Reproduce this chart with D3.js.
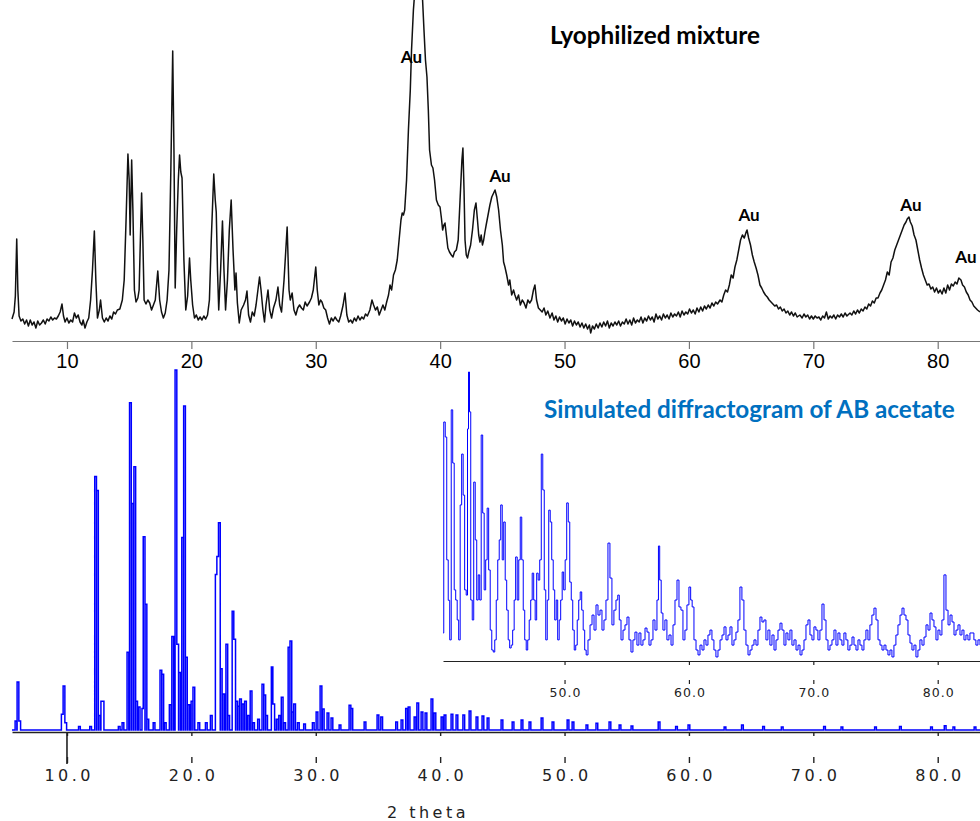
<!DOCTYPE html>
<html>
<head>
<meta charset="utf-8">
<script src="https://cdn.jsdelivr.net/npm/d3@7"></script>
<style>
  body { margin: 0; background: #fff; }
  svg { display: block; }
</style>
</head>
<body>
<div id="chart"></div>
<script>
// measured pattern of the lyophilized mixture: [2theta, counts]
const lyophilized = [
  [5.58, 11], [5.75, 18], [5.85, 34], [5.96, 91], [6.05, 40], [6.15, 14], [6.3, 9], [6.45, 11], [6.6, 6], [6.75, 10],
  [6.9, 4], [7.05, 10], [7.2, 5], [7.35, 8], [7.5, 2], [7.65, 9], [7.8, 5], [7.95, 7], [8.1, 10], [8.25, 6],
  [8.4, 11], [8.55, 9], [8.7, 13], [8.85, 10], [9.0, 12], [9.15, 11], [9.3, 14], [9.45, 18], [9.6, 26], [9.72, 14],
  [9.85, 8], [10.0, 12], [10.15, 7], [10.3, 10], [10.45, 8], [10.6, 17], [10.75, 12], [10.9, 15], [11.05, 8], [11.2, 5],
  [11.3, 10], [11.45, 2], [11.6, 8], [11.75, 12], [11.9, 30], [12.05, 60], [12.2, 99], [12.32, 50], [12.45, 12], [12.6, 20],
  [12.7, 30], [12.85, 12], [13.0, 8], [13.15, 12], [13.3, 9], [13.45, 14], [13.6, 11], [13.75, 18], [13.9, 16], [14.05, 20],
  [14.25, 21], [14.45, 30], [14.6, 50], [14.75, 110], [14.9, 176], [15.0, 150], [15.08, 95], [15.2, 170], [15.3, 120], [15.42, 40],
  [15.55, 28], [15.7, 32], [15.8, 40], [15.9, 90], [16.0, 137], [16.1, 90], [16.2, 30], [16.35, 26], [16.5, 30], [16.65, 27],
  [16.8, 20], [16.95, 25], [17.1, 30], [17.3, 59], [17.45, 30], [17.6, 18], [17.75, 12], [17.9, 17], [18.05, 30], [18.2, 60],
  [18.35, 160], [18.5, 279], [18.6, 180], [18.7, 42], [18.82, 100], [18.95, 150], [19.05, 175], [19.15, 158], [19.25, 152], [19.4, 70],
  [19.55, 20], [19.7, 34], [19.85, 72], [19.95, 50], [20.1, 25], [20.25, 12], [20.4, 15], [20.55, 10], [20.7, 13], [20.85, 10],
  [21.0, 14], [21.15, 11], [21.3, 15], [21.45, 30], [21.6, 90], [21.8, 156], [21.92, 130], [22.0, 118], [22.1, 60], [22.2, 20],
  [22.35, 60], [22.5, 109], [22.62, 60], [22.75, 20], [22.9, 50], [23.05, 100], [23.2, 130], [23.35, 80], [23.5, 40], [23.59, 57],
  [23.7, 27], [23.85, 7], [24.0, 20], [24.2, 25], [24.35, 30], [24.47, 39], [24.6, 15], [24.75, 8], [24.9, 18], [25.05, 14],
  [25.2, 25], [25.35, 40], [25.48, 53], [25.6, 40], [25.75, 20], [25.88, 8], [26.0, 25], [26.16, 40], [26.3, 20], [26.45, 12],
  [26.6, 22], [26.8, 30], [26.96, 43], [27.1, 25], [27.25, 18], [27.45, 50], [27.7, 103], [27.85, 40], [27.95, 30], [28.1, 37],
  [28.25, 20], [28.4, 15], [28.55, 22], [28.7, 25], [28.85, 22], [29.0, 20], [29.15, 28], [29.3, 24], [29.5, 28], [29.65, 32],
  [29.8, 40], [30.0, 63], [30.12, 40], [30.25, 25], [30.38, 30], [30.5, 28], [30.65, 22], [30.8, 20], [30.95, 12], [31.1, 6],
  [31.25, 12], [31.4, 9], [31.55, 13], [31.7, 10], [31.85, 8], [32.0, 14], [32.2, 25], [32.35, 37], [32.5, 15], [32.65, 8],
  [32.8, 10], [32.95, 7], [33.1, 12], [33.25, 9], [33.4, 14], [33.55, 10], [33.7, 13], [33.85, 11], [34.0, 16], [34.15, 14],
  [34.35, 20], [34.52, 30], [34.65, 25], [34.8, 20], [34.95, 23], [35.1, 15], [35.25, 20], [35.4, 25], [35.55, 20], [35.7, 28],
  [35.85, 35], [35.97, 45], [36.1, 40], [36.25, 55], [36.4, 60], [36.55, 70], [36.7, 90], [36.85, 110], [36.95, 117], [37.05, 115],
  [37.15, 120], [37.3, 150], [37.45, 200], [37.6, 240], [37.7, 280], [37.85, 320], [38.0, 345], [38.2, 365], [38.4, 362], [38.55, 340],
  [38.7, 300], [38.82, 270], [38.94, 253], [39.05, 220], [39.15, 180], [39.3, 165], [39.42, 162], [39.55, 150], [39.7, 130], [39.85, 125],
  [39.99, 123], [40.1, 112], [40.2, 100], [40.3, 105], [40.39, 107], [40.5, 95], [40.62, 82], [40.75, 78], [40.9, 75], [41.03, 73],
  [41.15, 78], [41.3, 80], [41.45, 90], [41.6, 130], [41.75, 170], [41.83, 182], [41.92, 140], [42.0, 90], [42.1, 75], [42.2, 72],
  [42.3, 78], [42.45, 85], [42.6, 100], [42.75, 120], [42.88, 127], [43.0, 110], [43.1, 95], [43.2, 88], [43.3, 95], [43.4, 85],
  [43.5, 90], [43.6, 98], [43.7, 105], [43.85, 115], [44.0, 125], [44.15, 133], [44.3, 137], [44.41, 140], [44.55, 133], [44.7, 120],
  [44.85, 100], [45.0, 85], [45.1, 68], [45.21, 63], [45.35, 55], [45.5, 45], [45.6, 50], [45.75, 35], [45.9, 40], [46.01, 35],
  [46.15, 30], [46.3, 35], [46.45, 25], [46.6, 30], [46.75, 27], [46.9, 22], [47.05, 30], [47.2, 27], [47.35, 30], [47.5, 40],
  [47.62, 45], [47.75, 30], [47.9, 22], [48.05, 20], [48.2, 18], [48.35, 22], [48.5, 15], [48.65, 19], [48.83, 12], [49.0, 17],
  [49.15, 10], [49.3, 14], [49.45, 8], [49.6, 13], [49.75, 9], [49.9, 12], [50.05, 6], [50.2, 11], [50.35, 7], [50.5, 10],
  [50.65, 4], [50.8, 9], [50.95, 5], [51.1, 8], [51.25, 3], [51.4, 7], [51.55, 2], [51.7, 6], [51.85, 1], [52.0, 5],
  [52.1, -3], [52.25, 4], [52.4, 1], [52.55, 6], [52.7, 2], [52.85, 7], [53.0, 3], [53.15, 8], [53.3, 4], [53.45, 9],
  [53.6, 2], [53.75, 7], [53.9, 4], [54.05, 8], [54.2, 5], [54.35, 9], [54.5, 4], [54.65, 8], [54.8, 6], [54.95, 11],
  [55.1, 6], [55.25, 10], [55.4, 5], [55.55, 12], [55.7, 7], [55.85, 10], [56.0, 8], [56.15, 13], [56.3, 7], [56.45, 12],
  [56.6, 9], [56.75, 14], [56.9, 10], [57.05, 13], [57.2, 8], [57.35, 16], [57.5, 11], [57.65, 14], [57.8, 10], [57.95, 16],
  [58.1, 12], [58.25, 15], [58.4, 11], [58.55, 17], [58.7, 13], [58.85, 16], [59.0, 14], [59.15, 18], [59.3, 13], [59.45, 19],
  [59.6, 15], [59.75, 18], [59.9, 16], [60.05, 21], [60.2, 17], [60.35, 20], [60.5, 16], [60.65, 22], [60.8, 18], [60.95, 23],
  [61.1, 19], [61.25, 24], [61.4, 21], [61.55, 25], [61.7, 22], [61.85, 27], [62.0, 24], [62.15, 28], [62.3, 26], [62.5, 30],
  [62.65, 28], [62.8, 35], [62.95, 40], [63.1, 38], [63.25, 45], [63.4, 55], [63.55, 52], [63.7, 63], [63.85, 70], [64.0, 80],
  [64.15, 90], [64.3, 95], [64.45, 92], [64.6, 98], [64.67, 100], [64.8, 92], [64.95, 85], [65.1, 75], [65.25, 68], [65.4, 62],
  [65.55, 55], [65.71, 45], [65.85, 42], [66.0, 38], [66.15, 35], [66.3, 33], [66.45, 30], [66.6, 28], [66.75, 26], [66.9, 24],
  [67.05, 25], [67.2, 21], [67.35, 23], [67.5, 19], [67.65, 21], [67.8, 17], [67.95, 19], [68.1, 15], [68.25, 18], [68.4, 14],
  [68.55, 17], [68.7, 13], [68.92, 15], [69.1, 12], [69.25, 16], [69.4, 13], [69.55, 15], [69.7, 11], [69.85, 14], [70.0, 11],
  [70.15, 14], [70.3, 12], [70.45, 13], [70.6, 10], [70.75, 14], [70.9, 12], [71.05, 18], [71.2, 11], [71.35, 14], [71.5, 12],
  [71.65, 15], [71.8, 11], [71.95, 15], [72.1, 13], [72.25, 16], [72.4, 13], [72.55, 17], [72.7, 14], [72.95, 17], [73.1, 15],
  [73.25, 19], [73.4, 16], [73.55, 20], [73.7, 17], [73.85, 21], [74.0, 19], [74.15, 23], [74.3, 21], [74.45, 26], [74.6, 24],
  [74.75, 29], [74.9, 27], [75.05, 32], [75.2, 32], [75.36, 37], [75.5, 40], [75.65, 45], [75.8, 50], [75.95, 58], [76.1, 55],
  [76.25, 68], [76.4, 72], [76.55, 80], [76.7, 85], [76.85, 90], [77.0, 95], [77.15, 100], [77.3, 105], [77.45, 108], [77.55, 111],
  [77.69, 113], [77.8, 108], [77.95, 104], [78.1, 95], [78.25, 90], [78.4, 80], [78.55, 70], [78.7, 62], [78.85, 55], [79.0, 50],
  [79.15, 45], [79.3, 46], [79.45, 41], [79.6, 43], [79.75, 38], [79.9, 42], [80.05, 37], [80.2, 40], [80.35, 36], [80.5, 42],
  [80.65, 37], [80.8, 45], [80.95, 40], [81.1, 46], [81.25, 44], [81.4, 48], [81.55, 46], [81.7, 52], [81.87, 50], [82.0, 45],
  [82.15, 43], [82.3, 38], [82.45, 35], [82.6, 30], [82.75, 28], [82.9, 24], [83.05, 22], [83.2, 20], [83.4, 18]
];

// gold reflections marked on the measured pattern: [2theta, counts] of the label
const auLabels = [[37.69, 267], [44.81, 148], [64.83, 109], [77.85, 119], [82.27, 67]];

// simulated reflections of AB acetate: [2theta, relative intensity %]
const simulatedPeaks = [
  [5.9, 2.5], [6.06, 13.3], [6.2, 2.5], [9.62, 4.4], [9.76, 12.2], [9.9, 2], [11.0, 1], [11.9, 1], [12.3, 70.4], [12.45, 66.5],
  [12.62, 4], [12.8, 8], [12.9, 8], [14.2, 1], [14.5, 2], [14.9, 21.6], [15.1, 90.9], [15.25, 62.9], [15.45, 73.1], [15.6, 8],
  [15.8, 6.4], [16.1, 6], [16.2, 53.7], [16.35, 34.9], [16.5, 3], [17.0, 2], [17.55, 16.6], [17.7, 15.5], [17.9, 2], [18.3, 7],
  [18.5, 26], [18.76, 100], [18.9, 23.8], [19.05, 16], [19.3, 53.5], [19.45, 90], [19.6, 20.2], [19.8, 7], [20.05, 8], [20.2, 11.9],
  [20.6, 2], [21.2, 2], [21.6, 4], [22.0, 43.2], [22.12, 48.2], [22.25, 57.6], [22.4, 17], [22.6, 10], [22.85, 23.8], [23.0, 4],
  [23.35, 33], [23.48, 25.2], [23.65, 8], [23.8, 6.6], [23.95, 8.6], [24.15, 7.2], [24.35, 8], [24.6, 4], [24.8, 10.8], [25.0, 2],
  [25.4, 3], [25.75, 12.7], [25.9, 9.7], [26.05, 4], [26.5, 17.5], [26.62, 7.2], [26.9, 3], [27.1, 4], [27.3, 9.1], [27.5, 2],
  [27.85, 23], [28.0, 24.7], [28.15, 5], [28.3, 7.2], [28.6, 2], [29.1, 1.7], [29.8, 2], [30.1, 5], [30.42, 12.2], [30.6, 5.8],
  [30.98, 4.7], [31.3, 3.3], [31.95, 1.4], [32.75, 6.9], [32.9, 6], [33.96, 2.2], [35.0, 4.2], [35.3, 3.6], [36.5, 2.2], [36.93, 2.8],
  [37.3, 6], [37.5, 6.4], [37.98, 3.6], [38.2, 7.5], [38.54, 5], [38.86, 4.7], [39.34, 8.6], [39.58, 4.7], [40.15, 3.6], [40.39, 4.2],
  [40.95, 4.4], [41.35, 4.2], [41.9, 4.2], [42.4, 5.3], [42.96, 3.6], [43.44, 3.9], [43.85, 3.3], [44.97, 2.8], [45.86, 2.2], [46.58, 2.8],
  [47.22, 2.2], [48.19, 3.3], [49.07, 2.2], [50.28, 2.8], [50.68, 2.2], [51.8, 1.4], [52.6, 1.9], [53.65, 2.2], [54.46, 1.4], [55.42, 1.1],
  [57.6, 2.2], [59.0, 1], [60.0, 1.4], [62.9, 0.8], [64.3, 1.4], [66.0, 1], [67.5, 0.8], [70.9, 1], [72.3, 0.8], [75.0, 0.8],
  [77.0, 1], [79.5, 0.8], [80.6, 1.2], [81.3, 0.8], [83.0, 0.8]
];

// magnified simulated profile above 40 deg (inset): [2theta, relative intensity]
const insetProfile = [
  [40.23, 9.7], [40.35, 82.7], [40.47, 77.5], [40.59, 35], [40.71, 21], [40.83, 7.3], [40.95, 86.9], [41.07, 68.5], [41.19, 24.6], [41.31, 21.1],
  [41.43, 14.2], [41.55, 7.3], [41.67, 54], [41.79, 71.6], [41.91, 57.4], [42.03, 24.6], [42.16, 22.8], [42.24, 80.3], [42.32, 100], [42.4, 86.2],
  [42.52, 21.1], [42.64, 14.2], [42.76, 61.9], [42.88, 41.9], [43.0, 21.1], [43.12, 29.8], [43.24, 21.1], [43.36, 78.2], [43.48, 51.2], [43.6, 24.6],
  [43.72, 35], [43.84, 52.9], [43.96, 31.5], [44.09, 10.7], [44.21, 3.8], [44.33, 3.1], [44.45, 7.3], [44.57, 21.1], [44.69, 35], [44.81, 41.9],
  [44.93, 54], [45.05, 35], [45.17, 48.1], [45.29, 28], [45.41, 17.6], [45.53, 7.3], [45.65, 4.5], [45.77, 5.5], [45.89, 10.7], [46.01, 21.1],
  [46.13, 36], [46.26, 21.1], [46.38, 35], [46.5, 49.8], [46.62, 35], [46.74, 17.6], [46.86, 7.3], [46.98, 3.8], [47.1, 7.3], [47.22, 14.2],
  [47.34, 21.1], [47.46, 30.4], [47.58, 21.1], [47.7, 14.2], [47.82, 30.4], [47.94, 28], [48.07, 35], [48.19, 71.6], [48.31, 59.2], [48.43, 24.6],
  [48.55, 7.3], [48.67, 21.1], [48.79, 52.2], [48.91, 48.1], [49.03, 35], [49.15, 24.6], [49.27, 14.2], [49.39, 21.1], [49.51, 7.3], [49.63, 14.2],
  [49.75, 21.1], [49.87, 30.8], [49.99, 24.6], [50.11, 35], [50.24, 54.7], [50.36, 48.1], [50.48, 27.3], [50.6, 21.1], [50.72, 10.7], [50.84, 3.8],
  [50.96, 5.5], [51.08, 14.2], [51.2, 21.1], [51.32, 23.9], [51.44, 17.6], [51.56, 10.7], [51.68, 3.8], [51.8, 2.1], [51.97, 7.3], [52.13, 12.5],
  [52.29, 15.9], [52.45, 10.7], [52.61, 19.4], [52.77, 15.9], [52.93, 17.6], [53.09, 10.7], [53.25, 14.2], [53.41, 21.1], [53.57, 40.8], [53.73, 28.7],
  [53.89, 12.5], [54.05, 17.6], [54.22, 21.1], [54.34, 22.8], [54.46, 14.2], [54.62, 7.3], [54.78, 10.7], [54.94, 12.5], [55.1, 15.2], [55.26, 7.3],
  [55.42, 3.1], [55.58, 7.3], [55.74, 10], [55.9, 5.5], [56.06, 9.7], [56.22, 5.5], [56.39, 7.3], [56.55, 11.4], [56.71, 10], [56.87, 5.5],
  [57.03, 7.3], [57.19, 14.2], [57.35, 10.7], [57.51, 21.1], [57.59, 39.8], [57.71, 28], [57.83, 16.6], [57.99, 10.7], [58.15, 14.2], [58.31, 7.3],
  [58.48, 9], [58.64, 5.5], [58.8, 12.5], [58.96, 21.1], [59.12, 28], [59.28, 18.7], [59.44, 17.6], [59.6, 7.3], [59.76, 10.7], [59.92, 19.4],
  [60.08, 25.6], [60.2, 21.1], [60.32, 18.7], [60.49, 7.3], [60.65, 3.8], [60.81, 2.1], [60.97, 5.5], [61.13, 3.8], [61.29, 7.3], [61.45, 5.5],
  [61.61, 9], [61.77, 10.7], [61.93, 7.3], [62.09, 3.8], [62.25, 1.4], [62.42, 3.8], [62.58, 7.3], [62.74, 9], [62.9, 11.8], [63.06, 7.3],
  [63.22, 9], [63.38, 11.8], [63.54, 5.5], [63.7, 7.3], [63.86, 10], [64.02, 14.2], [64.18, 25.6], [64.34, 21.1], [64.5, 10.7], [64.67, 5.5],
  [64.83, 2.1], [64.99, 3.8], [65.15, 5.5], [65.31, 7.3], [65.47, 5.5], [65.63, 10.7], [65.79, 15.2], [65.95, 13.5], [66.11, 14.2], [66.27, 7.3],
  [66.43, 10.7], [66.59, 5.5], [66.76, 9], [66.92, 3.8], [67.08, 7.3], [67.24, 10.7], [67.4, 13.1], [67.56, 10.7], [67.72, 5.5], [67.88, 9.7],
  [68.04, 7.3], [68.2, 10.7], [68.36, 5.5], [68.53, 7.3], [68.69, 3.8], [68.85, 5.5], [69.01, 2.1], [69.17, 3.8], [69.33, 7.3], [69.49, 12.5],
  [69.65, 14.2], [69.81, 9], [69.97, 7.3], [70.13, 11.8], [70.29, 10.7], [70.45, 7.3], [70.61, 10.7], [70.78, 19.7], [70.94, 14.2], [71.1, 7.3],
  [71.26, 3.8], [71.42, 5.5], [71.58, 7.3], [71.74, 10.7], [71.9, 5.5], [72.06, 9.7], [72.22, 7.3], [72.38, 5.5], [72.54, 9.7], [72.7, 7.3],
  [72.86, 3.8], [73.03, 5.5], [73.19, 8.3], [73.35, 5.5], [73.51, 3.8], [73.67, 7.3], [73.83, 5.5], [73.99, 3.8], [74.15, 7.3], [74.31, 10.7],
  [74.47, 7.3], [74.63, 12.5], [74.79, 15.9], [74.96, 18.3], [75.12, 14.2], [75.28, 7.3], [75.44, 5.5], [75.6, 3.8], [75.76, 5.5], [75.92, 3.8],
  [76.08, 2.1], [76.24, 3.8], [76.4, 1.4], [76.56, 5.5], [76.72, 9], [76.89, 12.5], [77.05, 15.9], [77.21, 18.3], [77.37, 15.9], [77.53, 14.2],
  [77.69, 9], [77.85, 6.2], [78.01, 3.8], [78.17, 5.5], [78.33, 1.4], [78.49, 3.8], [78.65, 7.3], [78.82, 5.5], [78.98, 8.3], [79.14, 12.5],
  [79.3, 10.7], [79.46, 16.6], [79.62, 14.2], [79.78, 11.8], [79.94, 7.3], [80.1, 10.7], [80.26, 9], [80.42, 14.2], [80.58, 29.8], [80.75, 17.6],
  [80.91, 12.5], [81.07, 15.9], [81.23, 13.5], [81.39, 9], [81.55, 10.7], [81.71, 12.5], [81.87, 9], [82.03, 10.7], [82.19, 7.3], [82.35, 9],
  [82.51, 7.3], [82.67, 9.7], [82.83, 9.7], [82.99, 7.3], [83.15, 5.5], [83.32, 7.3], [83.48, 5.5]
];

const topTicks = [10, 20, 30, 40, 50, 60, 70, 80];
const mainTicks = [10, 20, 30, 40, 50, 60, 70, 80];
const insetTicks = [50, 60, 70, 80];

const width = 980;
const height = 821;

const svg = d3.select('#chart')
    .append('svg')
    .attr('width', width)
    .attr('height', height);

const x = d3.scaleLinear().domain([5.58, 83.4]).range([12, 980]);
const yTop = d3.scaleLinear().domain([0, 330]).range([330, 0]);
const ySim = d3.scaleLinear().domain([0, 100]).range([730, 370]);
const yInset = d3.scaleLinear().domain([0, 100]).range([661, 372]);

// ---------- top panel: measured pattern ----------
const topAxis = svg.append('g')
    .attr('transform', 'translate(0,341)')
    .call(d3.axisBottom(x).tickValues(topTicks).tickSize(8).tickSizeOuter(0).tickPadding(5).tickFormat(d3.format('d')));
topAxis.select('.domain').attr('stroke', '#777').attr('stroke-width', 1.2);
topAxis.selectAll('.tick line').attr('stroke', '#777').attr('stroke-width', 1.2);
topAxis.selectAll('.tick text')
    .attr('fill', '#000')
    .style('font-family', '"Liberation Sans", Arial, sans-serif')
    .style('font-size', '20px');

svg.append('path')
    .datum(lyophilized)
    .attr('fill', 'none')
    .attr('stroke', '#111')
    .attr('stroke-width', 1.5)
    .attr('stroke-linejoin', 'round')
    .attr('d', d3.line().x(d => x(d[0])).y(d => yTop(d[1])));

svg.selectAll('.au')
    .data(auLabels)
    .enter()
    .append('text')
    .attr('class', 'au')
    .attr('x', d => x(d[0]))
    .attr('y', d => yTop(d[1]))
    .attr('text-anchor', 'middle')
    .style('font-family', 'Lato, "Open Sans", sans-serif')
    .style('font-weight', 'bold')
    .style('font-size', '17px')
    .text('Au');

const title1 = svg.append('text')
    .attr('x', 550)
    .attr('y', 44)
    .attr('font-size', 22)
    .style('font-family', 'Lato, "Open Sans", sans-serif')
    .style('font-weight', 'bold')
    .attr('fill', '#000')
    .text('Lyophilized mixture');

// ---------- bottom panel: simulated pattern ----------
const hw = 0.07;
const stickPoints = [[x.domain()[0], 0]];
simulatedPeaks.forEach((p, i) => {
    stickPoints.push([p[0] - hw, p[1]]);
    const next = simulatedPeaks[i + 1];
    if (!next || next[0] - hw > p[0] + hw) stickPoints.push([p[0] + hw, 0]);
});
stickPoints.push([x.domain()[1], 0]);

const mainAxis = svg.append('g')
    .attr('transform', 'translate(0,732)')
    .call(d3.axisBottom(x).tickValues(mainTicks).tickSize(4).tickSizeOuter(0).tickFormat(''));
mainAxis.select('.domain').attr('stroke', '#222').attr('stroke-width', 1.4);
mainAxis.selectAll('.tick line').attr('stroke', '#222').attr('stroke-width', 1.4);

svg.append('path')
    .datum(stickPoints)
    .attr('fill', 'none')
    .attr('stroke', '#0000ff')
    .attr('stroke-width', 1.5)
    .attr('d', d3.line().curve(d3.curveStepAfter).x(d => x(d[0])).y(d => ySim(d[1])));

const mainLabels = svg.append('g')
    .attr('transform', 'translate(0,757)')
    .call(d3.axisBottom(x).tickValues(mainTicks).tickSize(6).tickPadding(7).tickFormat(d3.format('.1f')));
mainLabels.select('.domain').remove();
mainLabels.selectAll('.tick line').attr('stroke', '#222').attr('stroke-width', 1.4);
mainLabels.selectAll('.tick text')
    .attr('fill', '#222')
    .attr('dx', 1.75)
    .style('font-family', '"DejaVu Sans", Verdana, sans-serif')
    .style('font-size', '16px')
    .style('letter-spacing', '3.5px');

// long first tick joining both tick rows
svg.append('line')
    .attr('x1', x(mainTicks[0])).attr('x2', x(mainTicks[0]))
    .attr('y1', 732).attr('y2', 764)
    .attr('stroke', '#222').attr('stroke-width', 1.6);

svg.append('text')
    .attr('x', 428)
    .attr('y', 818)
    .attr('text-anchor', 'middle')
    .attr('fill', '#222')
    .style('font-family', '"DejaVu Sans", Verdana, sans-serif')
    .style('font-size', '16px')
    .style('letter-spacing', '3.5px')
    .text('2 theta');

// ---------- inset: magnified region above 40 deg ----------
svg.append('defs').append('clipPath').attr('id', 'insetClip')
    .append('rect')
    .attr('x', x(insetProfile[0][0])).attr('y', 360)
    .attr('width', width - x(insetProfile[0][0])).attr('height', 310);

svg.append('path')
    .datum(insetProfile)
    .attr('clip-path', 'url(#insetClip)')
    .attr('fill', 'none')
    .attr('stroke', '#0000ff')
    .attr('stroke-width', 1)
    .attr('d', d3.line().curve(d3.curveStep).x(d => x(d[0])).y(d => yInset(d[1])));

const insetAxis = svg.append('g')
    .attr('transform', 'translate(0,661)')
    .call(d3.axisBottom(x.copy().domain([insetProfile[0][0], x.domain()[1]]).range([x(insetProfile[0][0]), 980]))
        .tickValues(insetTicks).tickSize(4).tickSizeOuter(0).tickFormat(''));
insetAxis.select('.domain').attr('stroke', '#222').attr('stroke-width', 1.2);
insetAxis.selectAll('.tick line').attr('stroke', '#222').attr('stroke-width', 1.2);

const insetLabels = svg.append('g')
    .attr('transform', 'translate(0,680)')
    .call(d3.axisBottom(x).tickValues(insetTicks).tickSize(4).tickPadding(4).tickFormat(d3.format('.1f')));
insetLabels.select('.domain').remove();
insetLabels.selectAll('.tick line').attr('stroke', '#222').attr('stroke-width', 1.2);
insetLabels.selectAll('.tick text')
    .attr('fill', '#222')
    .attr('dx', 0.5)
    .style('font-family', '"DejaVu Sans", Verdana, sans-serif')
    .style('font-size', '12.5px')
    .style('letter-spacing', '1px');

const title2 = svg.append('text')
    .attr('x', 544)
    .attr('y', 418)
    .attr('font-size', 22)
    .style('font-family', 'Lato, "Open Sans", sans-serif')
    .style('font-weight', 'bold')
    .attr('fill', '#0070c0')
    .text('Simulated diffractogram of AB acetate');

// scale the titles to the widths they take in the original figure
function fitWidth(sel, target) {
    const len = sel.node().getComputedTextLength();
    if (len > 0) sel.attr('font-size', +sel.attr('font-size') * target / len);
}
fitWidth(title1, 210);
fitWidth(title2, 411);
</script>
</body>
</html>
